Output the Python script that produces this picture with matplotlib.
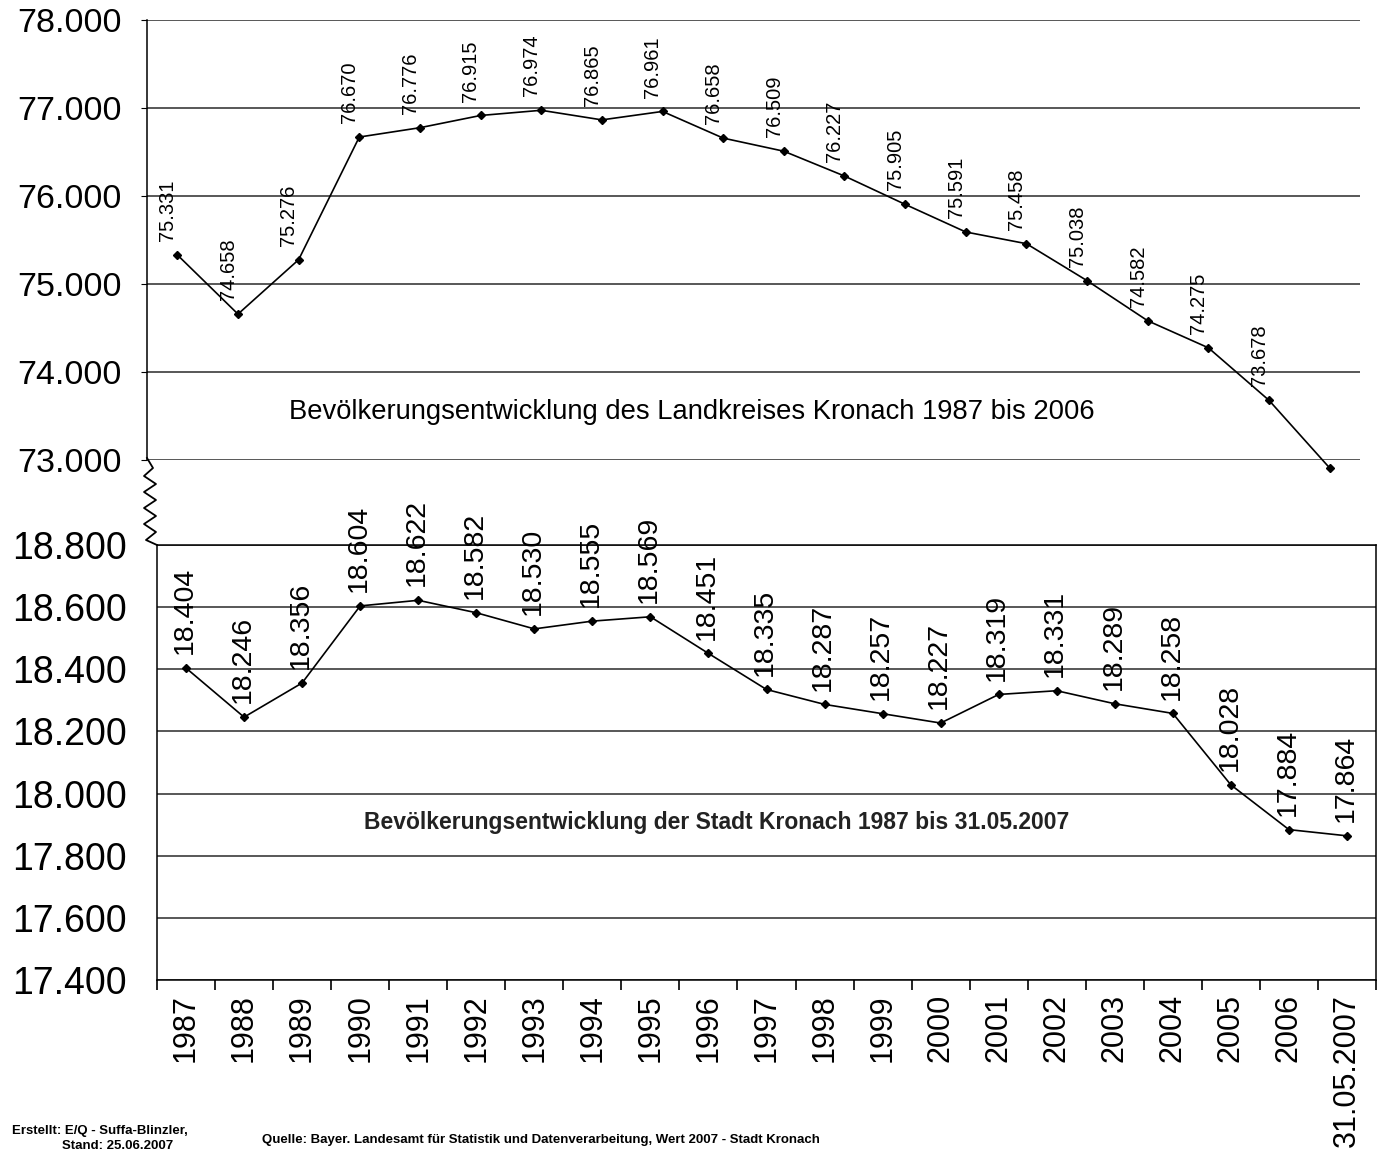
import matplotlib.pyplot as plt
from matplotlib.lines import Line2D
from matplotlib.ticker import FixedLocator, FuncFormatter

plt.rcParams['font.family'] = ['Liberation Sans', 'DejaVu Sans']

# Landkreis Kronach 1987-2006
jahre_lk = list(range(1987, 2007))
werte_lk = [75331, 74658, 75276, 76670, 76776, 76915, 76974, 76865, 76961, 76658,
            76509, 76227, 75905, 75591, 75458, 75038, 74582, 74275, 73678, 72909]

# Stadt Kronach 1987 - 31.05.2007
labels_stadt = [str(j) for j in range(1987, 2007)] + ['31.05.2007']
werte_stadt = [18404, 18246, 18356, 18604, 18622, 18582, 18530, 18555, 18569, 18451,
               18335, 18287, 18257, 18227, 18319, 18331, 18289, 18258, 18028, 17884, 17864]

lk_ticks = [73000, 74000, 75000, 76000, 77000, 78000]
stadt_ticks = [17400, 17600, 17800, 18000, 18200, 18400, 18600, 18800]


def de(v):
    # deutsche Tausendertrennung
    return f"{int(v):,}".replace(",", ".")


W, H = 1389, 1153
fig = plt.figure(figsize=(W / 100, H / 100), dpi=100)


def rect(l, t, r, b):
    return [l / W, 1 - b / H, (r - l) / W, (b - t) / H]


# ---- oberes Diagramm: Landkreis
ax1 = fig.add_axes(rect(147, 20, 1360, 460))
x1 = list(range(len(werte_lk)))
ax1.plot(x1, werte_lk, color='black', lw=1.2, marker='D', ms=4.5, clip_on=False, zorder=3)
for x, v in zip(x1, werte_lk):
    ax1.annotate(de(v), (x, v), xytext=(-7, 10), textcoords='offset points',
                 rotation=90, ha='center', va='bottom', fontsize=14.5)
ax1.set_xlim(-0.5, len(werte_lk) - 0.5)
ax1.set_ylim(73000, 78000)
ax1.yaxis.set_major_locator(FixedLocator(lk_ticks))
ax1.yaxis.set_major_formatter(FuncFormatter(lambda v, p: de(v)))
ax1.tick_params(axis='y', labelsize=24.5, length=4, pad=14)
ax1.set_xticks([])
ax1.grid(axis='y', color='#2a2a2a', lw=1.1)
for s in ['top', 'right', 'bottom']:
    ax1.spines[s].set_visible(False)
ax1.spines['left'].set_linewidth(1.1)
ax1.text(0.449, 0.109, 'Bevölkerungsentwicklung des Landkreises Kronach 1987 bis 2006',
         transform=ax1.transAxes, ha='center', va='center', fontsize=19.7)

# ---- unteres Diagramm: Stadt
ax2 = fig.add_axes(rect(157, 545, 1376, 980))
x2 = list(range(len(werte_stadt)))
ax2.plot(x2, werte_stadt, color='black', lw=1.2, marker='D', ms=4.5, zorder=3)
for x, v in zip(x2, werte_stadt):
    ax2.annotate(de(v), (x, v), xytext=(-1, 10), textcoords='offset points',
                 rotation=90, ha='center', va='bottom', fontsize=20.5)
ax2.set_xlim(-0.5, len(werte_stadt) - 0.5)
ax2.set_ylim(17400, 18800)
ax2.yaxis.set_major_locator(FixedLocator(stadt_ticks))
ax2.yaxis.set_major_formatter(FuncFormatter(lambda v, p: de(v)))
ax2.tick_params(axis='y', labelsize=27, length=0, pad=22)
ax2.set_xticks(x2)
ax2.set_xticklabels(labels_stadt, rotation=90, fontsize=22)
ax2.set_xticks([i - 0.5 for i in range(len(werte_stadt) + 1)], minor=True)
ax2.tick_params(axis='x', which='major', length=0, pad=10)
ax2.tick_params(axis='x', which='minor', length=7, width=1.2, direction='out')
ax2.grid(axis='y', color='#2a2a2a', lw=1.1)
for s in ax2.spines.values():
    s.set_linewidth(1.1)
ax2.text(0.459, 0.361, 'Bevölkerungsentwicklung der Stadt Kronach 1987 bis 31.05.2007',
         transform=ax2.transAxes, ha='center', va='center', fontsize=16.5,
         fontweight='bold', color='#222222')

# Achsenbruch (Zickzack) zwischen den Diagrammen
zx = [147, 153, 144, 156, 144, 156, 144, 156, 144, 156, 146, 157]
zy = [458, 468, 476, 484, 492, 500, 508, 516, 524, 532, 540, 545]
fig.add_artist(Line2D([v / W for v in zx], [1 - v / H for v in zy],
                      transform=fig.transFigure, color='black', lw=1.3))

# Fusszeile
foot = dict(fontsize=9.5, fontweight='bold', va='center', ha='left',
            family=['Liberation Sans Narrow', 'Liberation Sans', 'DejaVu Sans'])
fig.text(12 / W, 1 - 1131 / H, 'Erstellt: E/Q - Suffa-Blinzler,', **foot)
fig.text(62 / W, 1 - 1146 / H, 'Stand: 25.06.2007', **foot)
fig.text(262 / W, 1 - 1140 / H,
         'Quelle: Bayer. Landesamt für Statistik und Datenverarbeitung, Wert 2007 - Stadt Kronach',
         **foot)

fig.savefig('out.png', dpi=100)
